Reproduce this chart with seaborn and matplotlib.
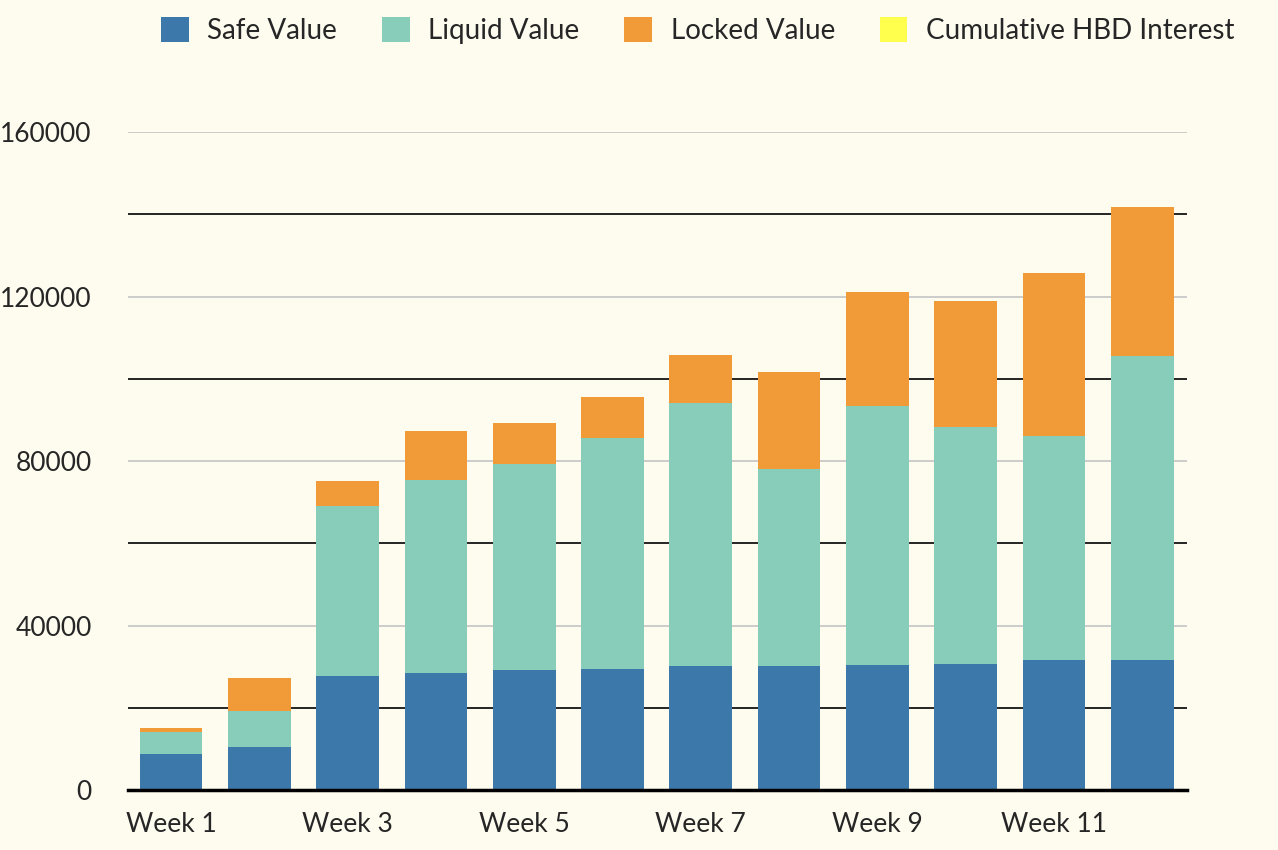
import numpy as np
import pandas as pd
import matplotlib
matplotlib.use("Agg")
import matplotlib.pyplot as plt
import seaborn as sns
from matplotlib.patches import Patch

# Data
weeks = [f"Week {i}" for i in range(1, 13)]
safe_value = [8800, 10500, 27700, 28500, 29200, 29400, 30200, 30200, 30400, 30600, 31600, 31600]
liquid_value = [5300, 8700, 41400, 46900, 50100, 56200, 63900, 47900, 63000, 57700, 54500, 73900]
locked_value = [1000, 8000, 6000, 11900, 9900, 10000, 11700, 23500, 27700, 30600, 39600, 36300]
hbd_interest = [0, 0, 0, 0, 0, 0, 0, 0, 0, 0, 0, 0]

series_names = ["Safe Value", "Liquid Value", "Locked Value", "Cumulative HBD Interest"]
colors = ["#3d78aa", "#87cdb9", "#f09a38", "#ffff4d"]
bg = "#fefbef"

sns.set_theme(style="white")
plt.rcParams["font.family"] = ["Lato", "DejaVu Sans"]

df = pd.DataFrame({
    "week": weeks,
    "safe": safe_value,
    "liquid": liquid_value,
    "locked": locked_value,
    "hbd": hbd_interest,
})
# cumulative tops for stacking
df["top_safe"] = df["safe"]
df["top_liquid"] = df["top_safe"] + df["liquid"]
df["top_locked"] = df["top_liquid"] + df["locked"]
df["top_hbd"] = df["top_locked"] + df["hbd"]

fig = plt.figure(figsize=(12.78, 8.5), dpi=100, facecolor=bg)
ax = fig.add_axes([0.100, 0.0706, 0.829, 0.774])
ax.set_facecolor(bg)

# draw tallest first so lower segments sit on top
for col, c in zip(["top_hbd", "top_locked", "top_liquid", "top_safe"], colors[::-1]):
    sns.barplot(data=df, x="week", y=col, color=c, width=0.71,
                saturation=1, linewidth=0, edgecolor="none", ax=ax, zorder=3)

ax.set_xlim(-0.49, 11.51)
ax.set_ylim(0, 160000)
ax.set_yticks(np.arange(0, 160001, 40000))
ax.set_yticks(np.arange(20000, 160000, 40000), minor=True)
ax.grid(axis="y", which="major", color="#c4c4c4", linewidth=1.2, zorder=0)
ax.grid(axis="y", which="minor", color="black", linewidth=1.2, zorder=0)
ax.set_axisbelow(True)

ax.set_xticks(range(0, 12, 2))
ax.set_xticklabels(weeks[::2])
ax.tick_params(axis="x", length=0, pad=16, labelsize=19)
ax.tick_params(axis="y", which="both", length=0, pad=26, labelsize=19)
for t in ax.get_yticklabels():
    t.set_horizontalalignment("right")

for s in ["top", "right", "left"]:
    ax.spines[s].set_visible(False)
ax.spines["bottom"].set_color("black")
ax.spines["bottom"].set_linewidth(2.5)
ax.spines["bottom"].set_zorder(5)
ax.set_xlabel("")
ax.set_ylabel("")

handles = [Patch(facecolor=c, edgecolor="none") for c in colors]
fig.legend(handles, series_names, loc="upper center", bbox_to_anchor=(0.546, 1.0),
           ncol=4, frameon=False, fontsize=20, handlelength=1.0, handleheight=1.0,
           handletextpad=0.68, columnspacing=1.6, borderaxespad=0.2)

fig.savefig("out.png", dpi=100, facecolor=bg)
